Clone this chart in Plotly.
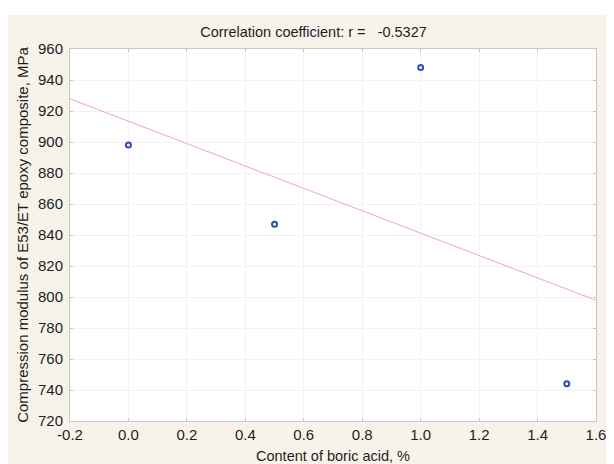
import numpy as np
import plotly.graph_objects as go

# Data
boric_acid_pct = [0.0, 0.5, 1.0, 1.5]
compression_modulus = [898, 847, 948, 744]
x_range = [-0.2, 1.6]
y_range = [720, 960]
x_ticks = [-0.2, 0.0, 0.2, 0.4, 0.6, 0.8, 1.0, 1.2, 1.4, 1.6]
y_ticks = [720, 740, 760, 780, 800, 820, 840, 860, 880, 900, 920, 940, 960]
title_text = "Correlation coefficient: r =   -0.5327"
x_title = "Content of boric acid, %"
y_title = "Compression modulus of E53/ET epoxy composite, MPa"

# Linear regression from the data
slope, intercept = np.polyfit(boric_acid_pct, compression_modulus, 1)
fit_x = list(x_range)
fit_y = [slope * v + intercept for v in fit_x]

# The page body adds an 8px offset, so the figure is sized to fit the window
W, H = 606, 456
ML, MR, MT, MB = 62, 18, 41, 43
PW, PH = W - ML - MR, H - MT - MB

def px_to_paper_x(px):
    return (px - ML) / PW

def py_to_paper_y(py):
    return (H - MB - py) / PH

FONT = "Liberation Sans, Arial, sans-serif"
CREAM = "#f8f3ea"
AXIS = "#c6c6c6"
GRID = "#f2f2f2"
TXT = "#1e1e1e"

fig = go.Figure()
fig.add_trace(go.Scatter(
    x=fit_x, y=fit_y, mode="lines",
    line=dict(color="#f4a6a6", width=1),
    showlegend=False, hoverinfo="skip",
))
fig.add_trace(go.Scatter(
    x=boric_acid_pct, y=compression_modulus, mode="markers",
    marker=dict(symbol="circle-open", size=5, color="#2b4fae",
                line=dict(width=2, color="#2b4fae")),
    showlegend=False,
))

fig.update_layout(
    width=W, height=H,
    margin=dict(l=ML, r=MR, t=MT, b=MB, pad=0, autoexpand=False),
    paper_bgcolor=CREAM,
    plot_bgcolor="white",
    font=dict(family=FONT, size=14, color=TXT),
    title=dict(text=title_text, xref="container", yref="container",
               x=305.5 / W, y=1 - 24 / H, xanchor="center", yanchor="middle",
               font=dict(family=FONT, size=14.5, color=TXT)),
    shapes=[
        # white strip along the top edge
        dict(type="rect", xref="paper", yref="paper", layer="above",
             x0=px_to_paper_x(-5), x1=px_to_paper_x(W + 5),
             y0=py_to_paper_y(7), y1=py_to_paper_y(-5),
             fillcolor="white", line=dict(width=0)),
    ],
)

fig.update_xaxes(
    range=x_range, tickvals=x_ticks,
    ticktext=[f"{v:.1f}" for v in x_ticks],
    automargin=False,
    showgrid=True, gridcolor=GRID, gridwidth=1,
    zeroline=False,
    showline=True, linecolor=AXIS, linewidth=1, mirror="allticks",
    ticks="inside", ticklen=3, tickcolor=AXIS,
    tickfont=dict(family=FONT, size=15, color=TXT),
    title=dict(text=x_title, standoff=9,
               font=dict(family=FONT, size=14.5, color=TXT)),
)
fig.update_yaxes(
    range=y_range, tickvals=y_ticks,
    automargin=False,
    showgrid=True, gridcolor=GRID, gridwidth=1,
    zeroline=False,
    showline=True, linecolor=AXIS, linewidth=1, mirror="allticks",
    ticks="inside", ticklen=3, tickcolor=AXIS,
    ticklabelstandoff=3,
    tickfont=dict(family=FONT, size=15, color=TXT),
    title=dict(text=y_title, standoff=5,
               font=dict(family=FONT, size=15, color=TXT)),
)

fig.write_html("out.html")
